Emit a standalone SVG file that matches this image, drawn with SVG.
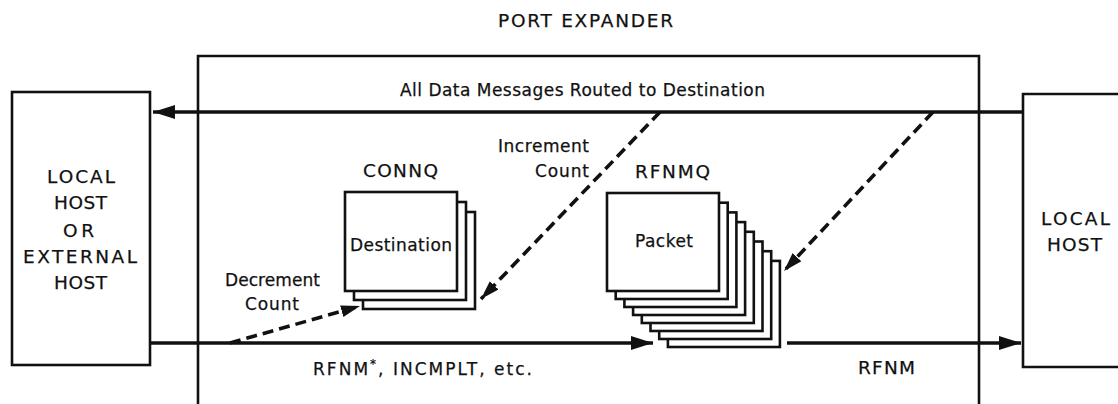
<svg xmlns="http://www.w3.org/2000/svg" width="1118" height="404" viewBox="0 0 1118 404">
<style>
text{font-family:"DejaVu Sans","Liberation Sans",Arial,sans-serif;font-size:17px;fill:#111;stroke:#111;stroke-width:0.25;}
.c{text-anchor:middle;}
.u{font-size:18.5px;}
.box{fill:#fff;stroke:#111;stroke-width:2.6;}
.frame{fill:none;stroke:#111;stroke-width:2.6;}
.solid{fill:none;stroke:#111;stroke-width:3.6;}
.dash{fill:none;stroke:#111;stroke-width:3.6;stroke-dasharray:11 6;}
</style>
<defs>
<marker id="ah" markerUnits="userSpaceOnUse" markerWidth="24" markerHeight="16" refX="22" refY="7" orient="auto">
<path d="M0,0 L22,7 L0,14 z" fill="#111"/>
</marker>
<marker id="ahs" markerUnits="userSpaceOnUse" markerWidth="22" markerHeight="14" refX="19" refY="6" orient="auto">
<path d="M0,0 L19,6 L0,12 z" fill="#111"/>
</marker>
</defs>
<rect width="1118" height="404" fill="#fff"/>

<g id="port-expander">
<path class="frame" d="M198,404 V56 H979 V404"/>
<text class="c u" x="585.5" y="27" textLength="175" lengthAdjust="spacing">PORT EXPANDER</text>
</g>

<g id="left-host">
<rect class="box" x="12" y="92" width="138" height="273"/>
<text class="c u" x="81" y="183" textLength="68" lengthAdjust="spacing">LOCAL</text>
<text class="c u" x="80.5" y="209" textLength="53" lengthAdjust="spacing">HOST</text>
<text class="c u" x="78.5" y="236.5" textLength="31" lengthAdjust="spacing">OR</text>
<text class="c u" x="80" y="263" textLength="114" lengthAdjust="spacing">EXTERNAL</text>
<text class="c u" x="80.5" y="289" textLength="53" lengthAdjust="spacing">HOST</text>
</g>

<g id="right-host">
<path class="frame" d="M1125,94 H1023 V367 H1125" fill="#fff"/>
<text class="c u" x="1075.5" y="225" textLength="69" lengthAdjust="spacing">LOCAL</text>
<text class="c u" x="1074.5" y="250.5" textLength="55" lengthAdjust="spacing">HOST</text>
</g>

<g id="connq">
<rect class="box" x="363" y="212" width="112" height="97"/>
<rect class="box" x="354" y="202" width="112" height="98"/>
<rect class="box" x="345" y="192" width="112" height="99"/>
<text class="c u" x="400.5" y="177" textLength="75" lengthAdjust="spacing">CONNQ</text>
<text class="c" x="401" y="251" textLength="102" lengthAdjust="spacing">Destination</text>
</g>

<g id="rfnmq">
<rect class="box" x="667.9" y="260.9" width="112" height="86.1"/>
<rect class="box" x="659.2" y="251.2" width="112" height="87.8"/>
<rect class="box" x="650.5" y="241.5" width="112" height="89.5"/>
<rect class="box" x="641.8" y="231.8" width="112" height="91.2"/>
<rect class="box" x="633.1" y="222.1" width="112" height="92.9"/>
<rect class="box" x="624.4" y="212.4" width="112" height="94.6"/>
<rect class="box" x="615.7" y="202.7" width="112" height="96.3"/>
<rect class="box" x="607" y="193" width="112" height="98"/>
<text class="c u" x="672.5" y="178" textLength="75" lengthAdjust="spacing">RFNMQ</text>
<text class="c" x="664" y="247" textLength="58" lengthAdjust="spacing">Packet</text>
</g>

<g id="connectors">
<path class="solid" d="M1023,112 H153" marker-end="url(#ah)"/>
<path class="solid" d="M150,343 H653" marker-end="url(#ah)"/>
<path class="solid" d="M787,343 H1021" marker-end="url(#ah)"/>
<path class="dash" d="M660,112 L481,299" marker-end="url(#ahs)"/>
<path class="dash" d="M933,112 L784,271" marker-end="url(#ahs)"/>
<path class="dash" d="M230,343 L360,306" marker-end="url(#ahs)"/>
<text x="400" y="96" textLength="365" lengthAdjust="spacing">All Data Messages Routed to Destination</text>
<text class="c" x="543.5" y="152" textLength="91" lengthAdjust="spacing">Increment</text>
<text class="c" x="562" y="177" textLength="54" lengthAdjust="spacing">Count</text>
<text class="c" x="272.5" y="286" textLength="95" lengthAdjust="spacing">Decrement</text>
<text class="c" x="272" y="310" textLength="54" lengthAdjust="spacing">Count</text>
<text x="313" y="375" textLength="219" lengthAdjust="spacing">RFNM<tspan dy="-7" font-size="12">*</tspan><tspan dy="7">, INCMPLT, etc.</tspan></text>
<text class="c u" x="886.5" y="374" textLength="57" lengthAdjust="spacing">RFNM</text>
</g>
</svg>
